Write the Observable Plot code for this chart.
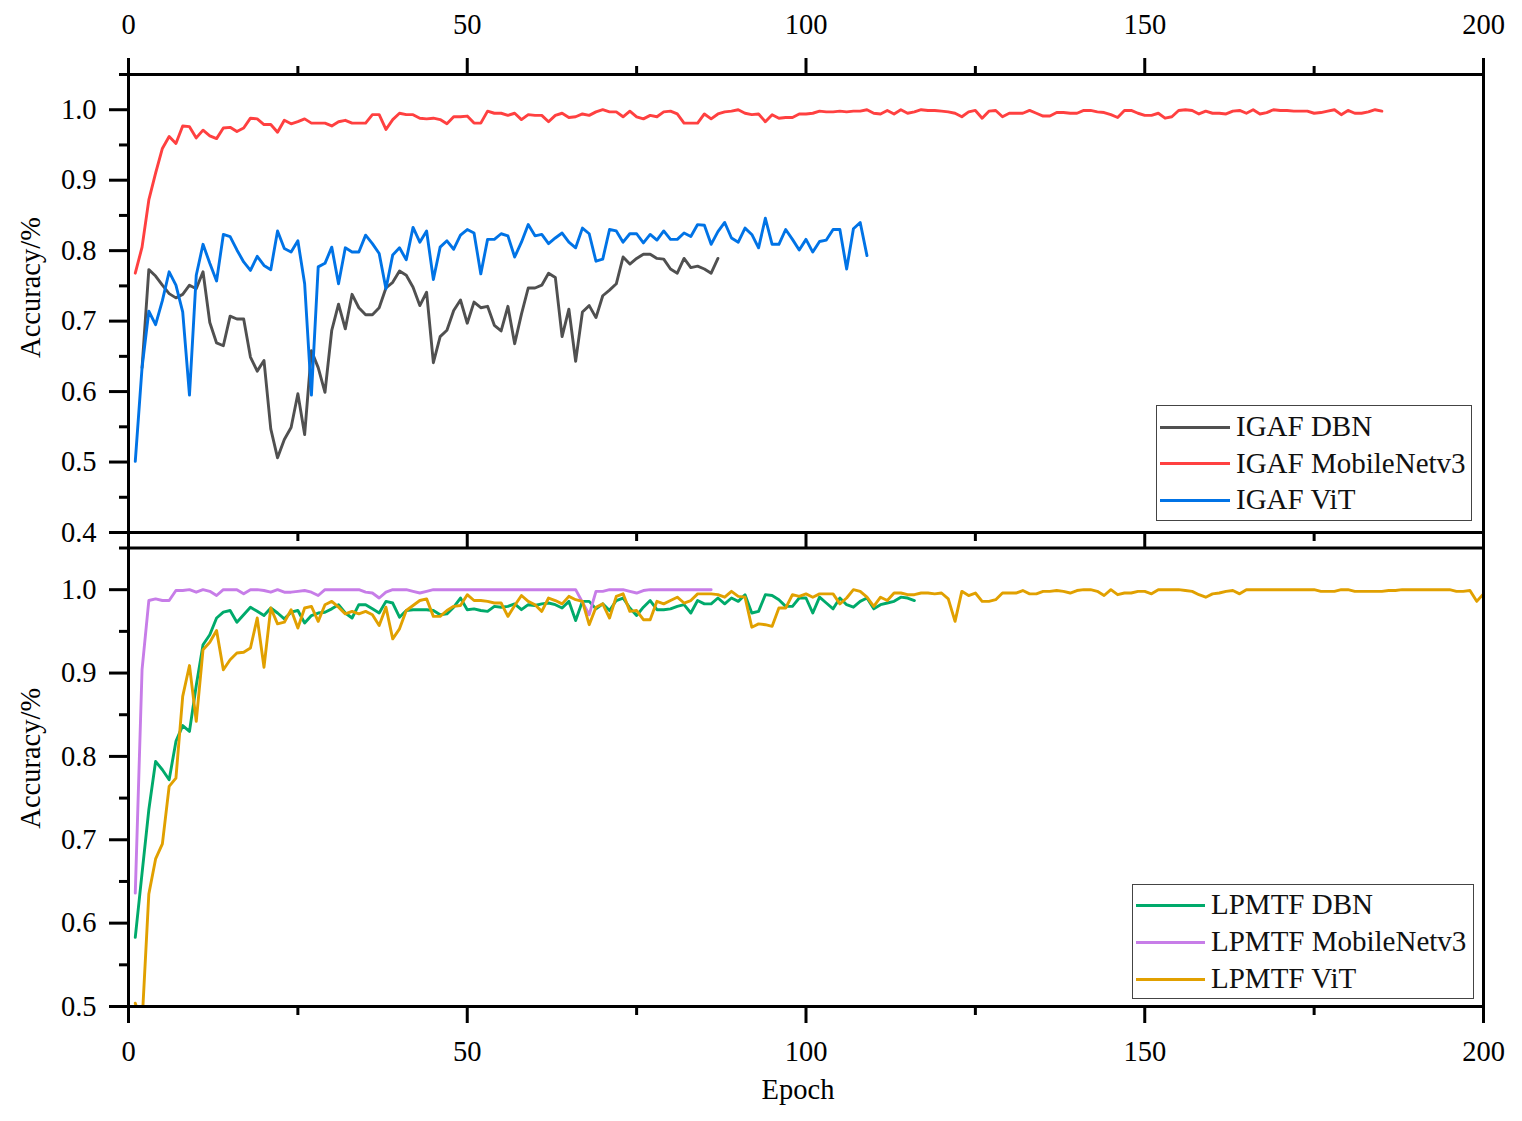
<!DOCTYPE html>
<html><head><meta charset="utf-8">
<script src="https://cdn.jsdelivr.net/npm/d3@7"></script>
<script src="https://cdn.jsdelivr.net/npm/@observablehq/plot@0.6"></script>
<style>
body{margin:0;background:#fff;}
#wrap{position:relative;width:1522px;height:1121px;font-family:"Liberation Serif","Times New Roman",serif;background:#fff;}
#top,#bot{position:absolute;left:0;}
#top{top:0px;}
#bot{top:540px;}
.legend{position:absolute;border:1.5px solid #444;background:#fff;box-sizing:border-box;}
.sw{position:absolute;height:3px;}
.lt{position:absolute;font-size:29px;line-height:29px;color:#111;white-space:nowrap;transform:translateY(-52%);}
</style></head>
<body>
<div id="wrap"><div id="top"></div><div id="bot"></div></div>
<script>
// ---- tick values ----
const majorX = [0, 50, 100, 150, 200];
const minorX = [25, 75, 125, 175];
const majorYTop = [0.4, 0.5, 0.6, 0.7, 0.8, 0.9, 1.0];
const minorYTop = [0.45, 0.55, 0.65, 0.75, 0.85, 0.95, 1.05];
const majorYBot = [0.5, 0.6, 0.7, 0.8, 0.9, 1.0];
const minorYBot = [0.55, 0.65, 0.75, 0.85, 0.95, 1.05];

// ---- series names and colours ----
const topNames = ["IGAF DBN", "IGAF MobileNetv3", "IGAF ViT"];
const botNames = ["LPMTF DBN", "LPMTF MobileNetv3", "LPMTF ViT"];
const topColors = ["#505050", "#ff4040", "#0073e6"];
const botColors = ["#00aa6b", "#c77de8", "#e1a000"];

// ---- values (first epoch given separately) ----
const igafDbnStart = 2;
const igafDbn = [0.634,0.773,0.764,0.751,0.739,0.733,0.738,0.751,0.746,0.770,0.698,0.669,0.665,0.707,0.703,0.703,0.649,0.629,0.644,0.547,0.506,0.532,0.549,0.597,0.539,0.658,0.634,0.599,0.687,0.724,0.689,0.738,0.719,0.709,0.709,0.719,0.747,0.755,0.771,0.765,0.748,0.722,0.741,0.641,0.678,0.687,0.715,0.730,0.697,0.727,0.719,0.721,0.694,0.686,0.721,0.668,0.710,0.747,0.747,0.751,0.768,0.762,0.678,0.717,0.643,0.713,0.722,0.705,0.736,0.744,0.753,0.791,0.781,0.789,0.795,0.795,0.789,0.788,0.774,0.768,0.789,0.776,0.778,0.774,0.768,0.789];

const igafMobStart = 1;
const igafMob = [0.768,0.805,0.872,0.910,0.945,0.962,0.952,0.977,0.976,0.960,0.971,0.963,0.959,0.974,0.975,0.969,0.974,0.988,0.987,0.979,0.979,0.968,0.985,0.980,0.983,0.987,0.981,0.981,0.981,0.977,0.983,0.985,0.981,0.981,0.981,0.993,0.993,0.972,0.986,0.995,0.993,0.993,0.988,0.987,0.988,0.986,0.980,0.990,0.990,0.991,0.981,0.981,0.998,0.995,0.995,0.992,0.995,0.986,0.993,0.992,0.992,0.983,0.992,0.995,0.989,0.990,0.994,0.992,0.997,1.000,0.997,0.997,0.990,0.998,0.990,0.987,0.992,0.990,0.997,0.998,0.994,0.981,0.981,0.981,0.994,0.987,0.994,0.997,0.998,1.000,0.995,0.993,0.994,0.983,0.993,0.988,0.989,0.989,0.994,0.994,0.995,0.998,0.997,0.997,0.998,0.997,0.998,0.998,1.000,0.995,0.994,0.999,0.994,1.000,0.995,0.997,1.000,0.999,0.999,0.998,0.997,0.995,0.990,0.997,0.999,0.988,0.998,0.999,0.990,0.995,0.995,0.995,0.999,0.995,0.991,0.991,0.996,0.996,0.995,0.995,0.999,0.999,0.997,0.996,0.993,0.989,0.999,0.999,0.995,0.992,0.992,0.995,0.988,0.990,0.999,1.000,0.999,0.994,0.998,0.995,0.995,0.994,0.998,0.999,0.995,1.000,0.994,0.996,1.000,0.999,0.999,0.998,0.998,0.998,0.995,0.996,0.998,1.000,0.993,0.999,0.995,0.995,0.997,1.000,0.998];

const igafVitStart = 1;
const igafVit = [0.501,0.634,0.714,0.695,0.729,0.770,0.751,0.713,0.595,0.765,0.809,0.782,0.757,0.823,0.820,0.801,0.784,0.772,0.792,0.779,0.773,0.828,0.803,0.798,0.814,0.753,0.595,0.777,0.782,0.805,0.753,0.804,0.798,0.798,0.822,0.810,0.796,0.746,0.794,0.804,0.787,0.833,0.812,0.828,0.759,0.805,0.814,0.802,0.822,0.830,0.825,0.767,0.816,0.816,0.824,0.821,0.791,0.812,0.837,0.821,0.823,0.810,0.818,0.825,0.812,0.804,0.832,0.824,0.785,0.788,0.830,0.828,0.812,0.824,0.824,0.811,0.823,0.815,0.828,0.816,0.816,0.825,0.820,0.837,0.836,0.809,0.827,0.840,0.818,0.812,0.832,0.823,0.804,0.846,0.809,0.809,0.830,0.816,0.801,0.816,0.798,0.813,0.815,0.830,0.830,0.774,0.831,0.840,0.793];

const lpmtfDbnStart = 1;
const lpmtfDbn = [0.583,0.660,0.736,0.794,0.784,0.772,0.818,0.837,0.830,0.885,0.934,0.946,0.966,0.973,0.975,0.961,0.970,0.979,0.974,0.969,0.978,0.972,0.965,0.973,0.975,0.960,0.969,0.972,0.973,0.977,0.982,0.972,0.966,0.982,0.982,0.977,0.972,0.986,0.984,0.967,0.975,0.976,0.976,0.976,0.975,0.970,0.971,0.979,0.990,0.976,0.977,0.975,0.974,0.980,0.979,0.980,0.983,0.976,0.982,0.981,0.983,0.984,0.982,0.978,0.986,0.963,0.986,0.986,0.977,0.983,0.975,0.987,0.990,0.978,0.969,0.979,0.987,0.976,0.976,0.977,0.980,0.982,0.972,0.987,0.983,0.983,0.990,0.983,0.990,0.986,0.994,0.972,0.974,0.994,0.993,0.988,0.980,0.980,0.990,0.990,0.972,0.991,0.984,0.977,0.990,0.982,0.979,0.986,0.990,0.977,0.982,0.984,0.986,0.991,0.990,0.987];

const lpmtfMobStart = 1;
const lpmtfMob = [0.636,0.904,0.987,0.989,0.987,0.987,0.999,0.999,1.000,0.997,1.000,0.998,0.993,1.000,1.000,1.000,0.995,1.000,1.000,0.999,0.997,1.000,0.997,0.997,0.998,0.999,0.997,0.993,1.000,1.000,1.000,1.000,1.000,1.000,0.997,0.996,0.990,0.997,1.000,1.000,1.000,0.998,0.996,0.998,1.000,1.000,1.000,1.000,1.000,1.000,1.000,1.000,1.000,1.000,1.000,1.000,1.000,1.000,1.000,1.000,1.000,1.000,1.000,1.000,1.000,1.000,0.985,0.970,0.998,0.998,1.000,1.000,1.000,0.998,0.996,0.999,1.000,1.000,1.000,1.000,1.000,1.000,1.000,1.000,1.000,1.000];

const lpmtfVitStart = 1;
const lpmtfVit = [0.504,0.480,0.635,0.677,0.695,0.764,0.774,0.872,0.909,0.842,0.928,0.937,0.951,0.904,0.916,0.924,0.925,0.930,0.966,0.907,0.978,0.959,0.961,0.976,0.954,0.978,0.980,0.962,0.982,0.986,0.979,0.971,0.974,0.971,0.974,0.970,0.957,0.979,0.941,0.953,0.975,0.981,0.987,0.989,0.968,0.968,0.975,0.980,0.981,0.994,0.987,0.987,0.986,0.984,0.984,0.968,0.981,0.993,0.986,0.982,0.974,0.990,0.987,0.983,0.992,0.988,0.986,0.958,0.979,0.983,0.966,0.992,0.995,0.974,0.975,0.964,0.964,0.986,0.983,0.987,0.991,0.984,0.987,0.995,0.995,0.995,0.994,0.991,0.998,0.992,0.991,0.955,0.959,0.958,0.956,0.978,0.978,0.994,0.992,0.995,0.991,0.995,0.995,0.995,0.983,0.990,1.000,0.998,0.991,0.980,0.991,0.987,0.996,0.996,0.994,0.994,0.996,0.996,0.995,0.996,0.989,0.962,0.998,0.993,0.996,0.986,0.986,0.988,0.996,0.996,0.996,0.999,0.995,0.995,0.998,0.998,0.999,0.998,0.996,0.999,1.000,1.000,0.998,0.993,1.000,0.994,0.996,0.996,0.998,0.998,0.995,1.000,1.000,1.000,1.000,0.999,0.998,0.994,0.991,0.995,0.996,0.998,0.999,0.995,1.000,1.000,1.000,1.000,1.000,1.000,1.000,1.000,1.000,1.000,1.000,0.998,0.998,0.998,1.000,1.000,0.998,0.998,0.998,0.998,0.998,0.999,0.999,1.000,1.000,1.000,1.000,1.000,1.000,1.000,1.000,0.998,0.998,0.999,0.986,0.995];

// ---- build tables ----
function rows(values, start, name) {
  return values.map((v, i) => ({epoch: start + i, value: v, series: name}));
}
const topData = [
  rows(igafDbn, igafDbnStart, topNames[0]),
  rows(igafMob, igafMobStart, topNames[1]),
  rows(igafVit, igafVitStart, topNames[2])
];
const botData = [
  rows(lpmtfDbn, lpmtfDbnStart, botNames[0]),
  rows(lpmtfMob, lpmtfMobStart, botNames[1]),
  rows(lpmtfVit, lpmtfVitStart, botNames[2])
];

const font = '"Liberation Serif", "Times New Roman", serif';
const fmt1 = d3.format(".1f");
const blank = () => "";
const fs = 28.5;

function lineMarks(data, colors) {
  return data.map((d, i) => Plot.line(d, {x: "epoch", y: "value", stroke: colors[i], strokeWidth: 2.9, clip: true, strokeLinejoin: "round"}));
}

const topPlot = Plot.plot({
  width: 1522, height: 548,
  marginLeft: 128, marginRight: 39, marginTop: 74, marginBottom: 16,
  x: {domain: [0, 200]},
  y: {domain: [0.4, 1.05]},
  style: {fontFamily: font, fontSize: fs + "px", color: "#000", background: "none", overflow: "visible"},
  marks: [
    Plot.axisX({anchor: "top", ticks: majorX, tickSize: 17, tickPadding: 24, strokeWidth: 3, fontSize: fs, label: null, tickFormat: d => String(d)}),
    Plot.axisX({anchor: "top", ticks: minorX, tickSize: 9, strokeWidth: 3, label: null, tickFormat: blank}),
    Plot.axisX({anchor: "bottom", ticks: majorX, tickSize: 15, strokeWidth: 3, label: null, tickFormat: blank}),
    Plot.axisX({anchor: "bottom", ticks: minorX, tickSize: 9, strokeWidth: 3, label: null, tickFormat: blank}),
    Plot.axisY({ticks: majorYTop, tickSize: 19, tickPadding: 13, strokeWidth: 3, fontSize: fs, label: null, tickFormat: fmt1}),
    Plot.axisY({ticks: minorYTop, tickSize: 9, strokeWidth: 3, label: null, tickFormat: blank}),
    ...lineMarks(topData, topColors),
    Plot.frame({stroke: "#000", strokeWidth: 3}),
    Plot.text(["Accuracy/%"], {frameAnchor: "left", text: d => d, textAnchor: "middle", dx: -98, dy: -16, rotate: -90, fontSize: fs})
  ]
});
document.getElementById("top").appendChild(topPlot);

const botPlot = Plot.plot({
  width: 1522, height: 581,
  marginLeft: 128, marginRight: 39, marginTop: 7.5, marginBottom: 115,
  x: {domain: [0, 200]},
  y: {domain: [0.5, 1.05]},
  style: {fontFamily: font, fontSize: fs + "px", color: "#000", background: "none", overflow: "visible"},
  marks: [
    Plot.axisX({anchor: "bottom", ticks: majorX, tickSize: 17, tickPadding: 17, strokeWidth: 3, fontSize: fs, label: null, tickFormat: d => String(d)}),
    Plot.axisX({anchor: "bottom", ticks: minorX, tickSize: 9, strokeWidth: 3, label: null, tickFormat: blank}),
    Plot.axisY({ticks: majorYBot, tickSize: 19, tickPadding: 13, strokeWidth: 3, fontSize: fs, label: null, tickFormat: fmt1}),
    Plot.axisY({ticks: minorYBot, tickSize: 9, strokeWidth: 3, label: null, tickFormat: blank}),
    ...lineMarks(botData, botColors),
    Plot.frame({stroke: "#000", strokeWidth: 3}),
    Plot.text(["Accuracy/%"], {frameAnchor: "left", text: d => d, textAnchor: "middle", dx: -98, dy: -19, rotate: -90, fontSize: fs}),
    Plot.text(["Epoch"], {frameAnchor: "bottom", text: d => d, dx: -8, dy: 92, fontSize: fs})
  ]
});
document.getElementById("bot").appendChild(botPlot);

// ---- legends (HTML boxes) ----
function legend(names, colors, box) {
  const div = document.createElement("div");
  div.className = "legend";
  Object.assign(div.style, {left: box.left + "px", top: box.top + "px", width: box.width + "px", height: box.height + "px"});
  names.forEach((n, i) => {
    const cy = box.rows[i];
    const sw = document.createElement("div");
    sw.className = "sw";
    Object.assign(sw.style, {left: "3px", width: box.sw + "px", top: (cy - 1.5) + "px", background: colors[i]});
    const t = document.createElement("div");
    t.className = "lt";
    t.textContent = n;
    Object.assign(t.style, {left: (box.sw + 9) + "px", top: cy + "px"});
    div.appendChild(sw);
    div.appendChild(t);
  });
  document.getElementById("wrap").appendChild(div);
}
legend(topNames, topColors, {left: 1156, top: 405, width: 316, height: 116, sw: 70, rows: [21, 57.5, 94]});
legend(botNames, botColors, {left: 1132, top: 884, width: 342, height: 115, sw: 69, rows: [20, 57, 94]});
</script>
</body></html>
